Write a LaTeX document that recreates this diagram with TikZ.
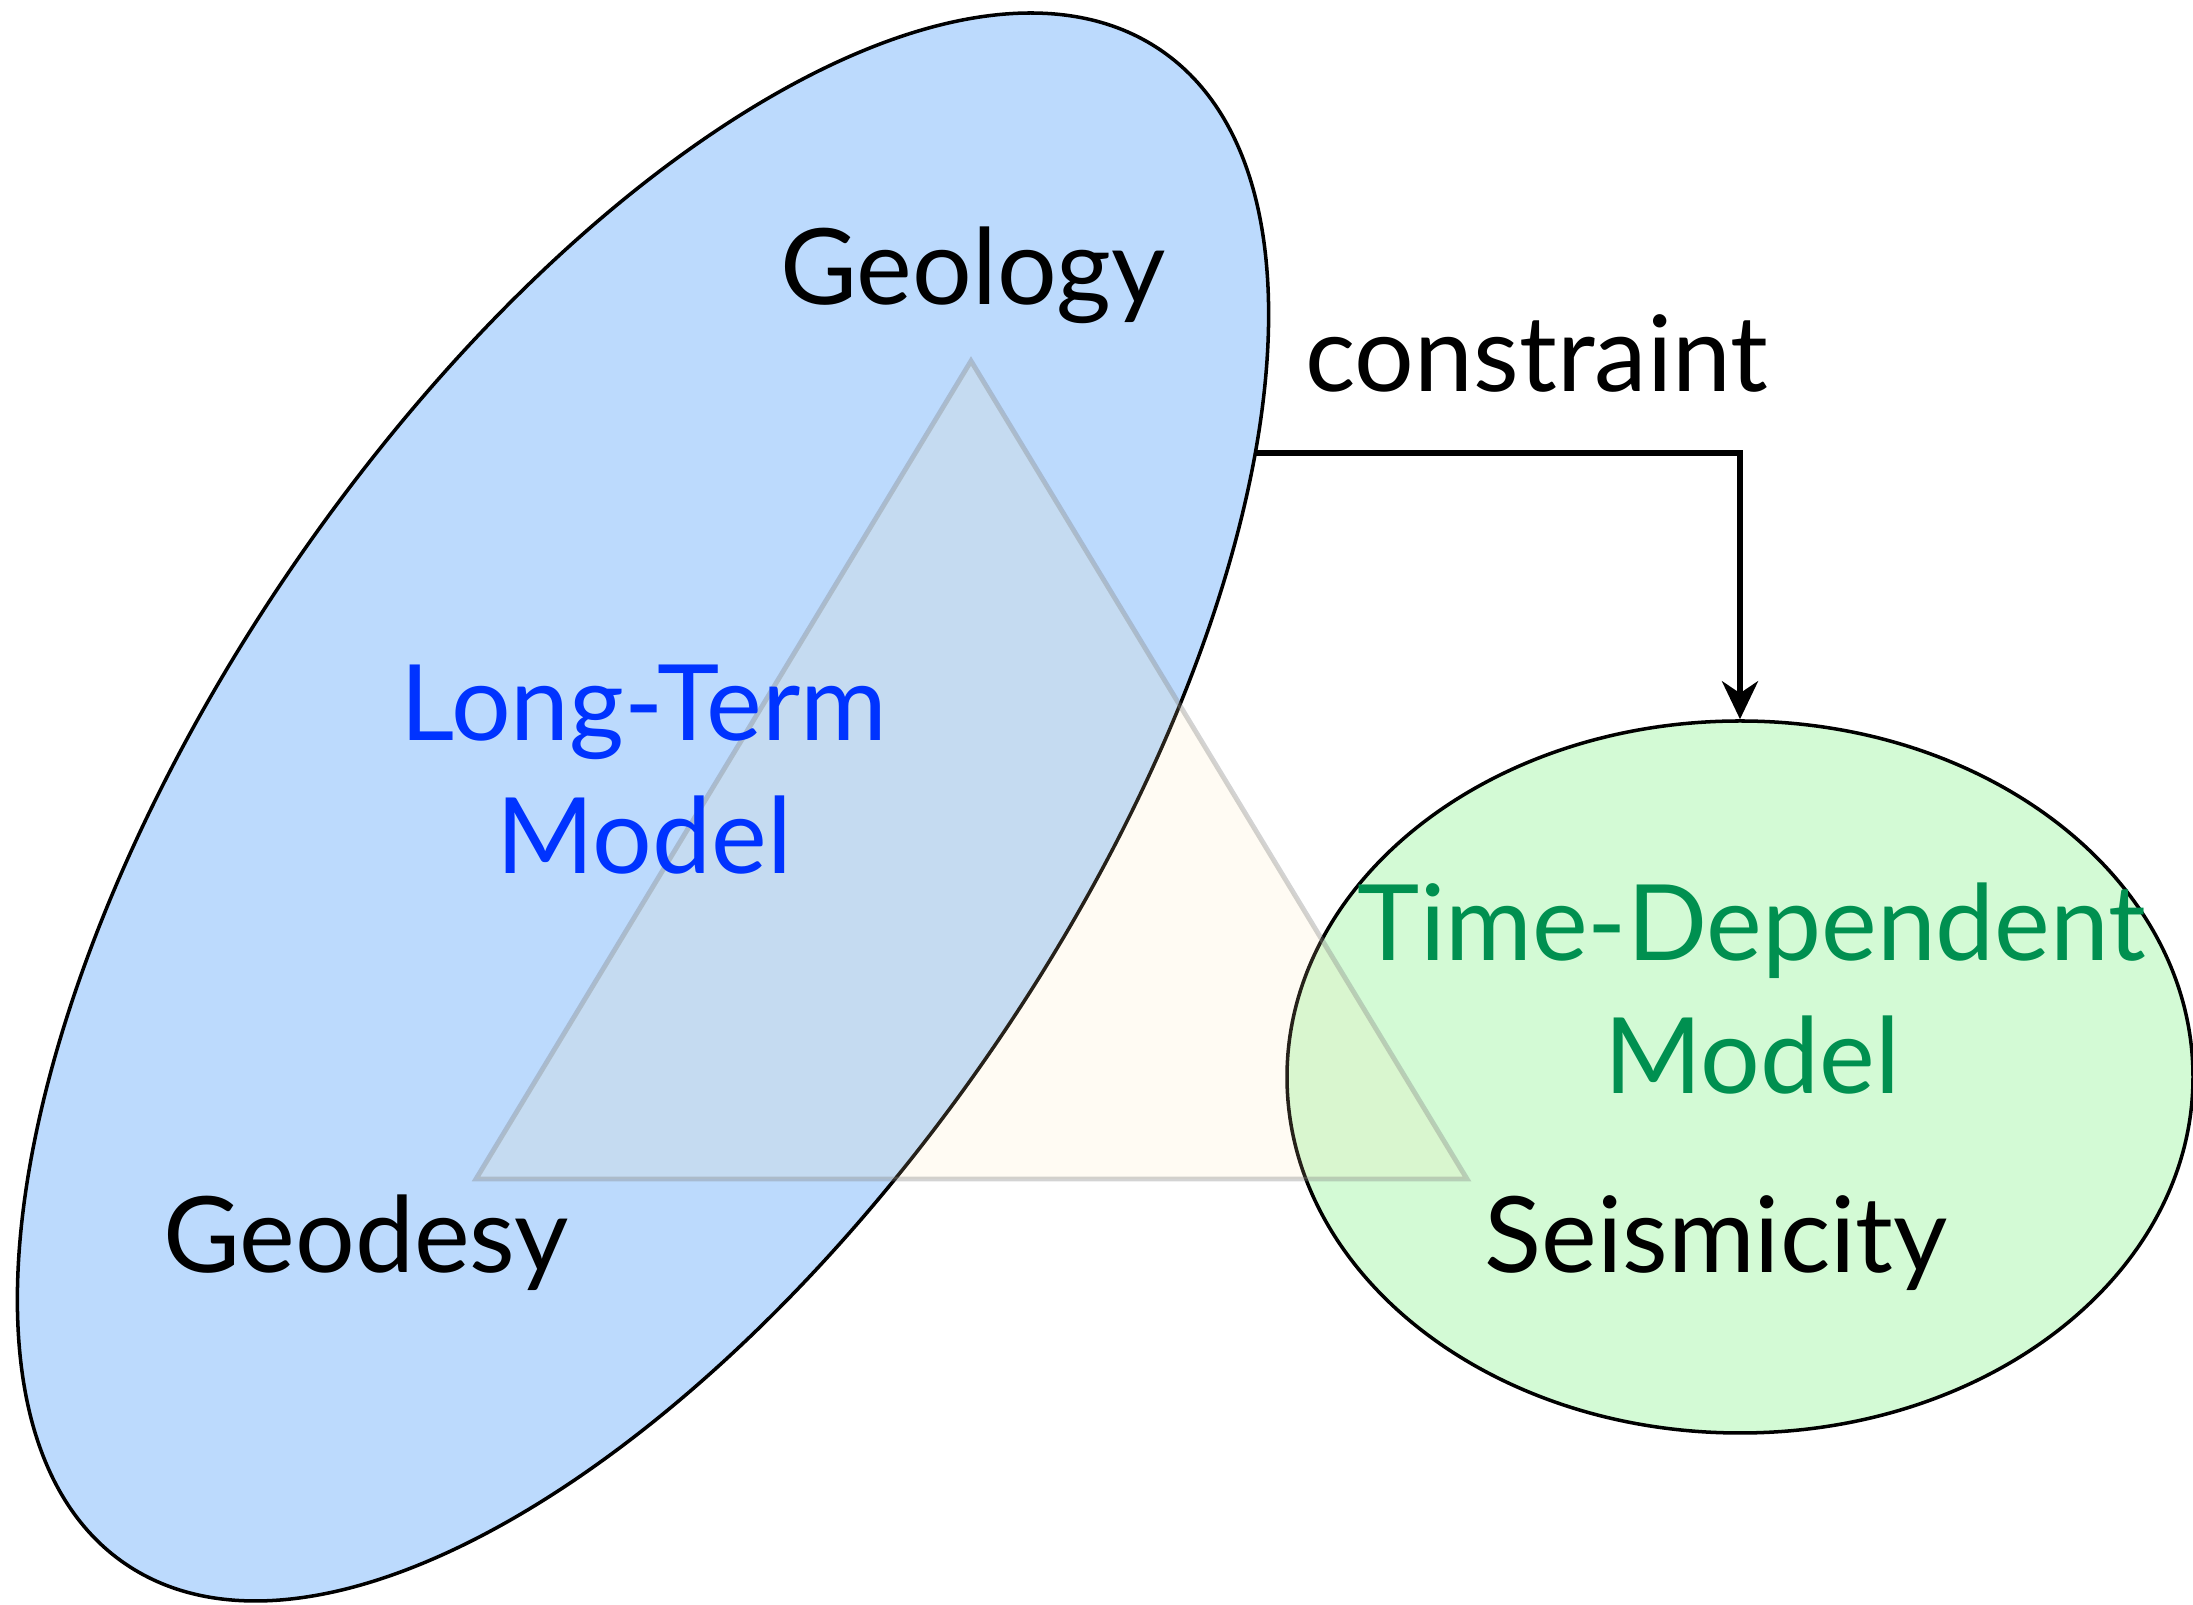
\documentclass[tikz,border=0pt]{standalone}
\usepackage{fontspec}
\setmainfont{Lato}
\usepackage{xcolor}
\usetikzlibrary{arrows.meta,positioning,shapes.geometric}
\definecolor{ltblue}{HTML}{BCDAFD}
\definecolor{tdgreen}{HTML}{D3FAD5}
\definecolor{ltText}{HTML}{0033FF}
\definecolor{tdText}{HTML}{009050}
\definecolor{wheat}{HTML}{FFE4AF}

\begin{document}
\begin{tikzpicture}[
  blob/.style={draw=black, line width=1pt, ellipse, inner sep=0pt},
  label/.style={font=\fontsize{30}{36}\selectfont, align=center, anchor=base},
  arrow/.style={-{Stealth[length=3.8mm, width=3.6mm, inset=1.2mm]}, line width=1.6pt, draw=black}
]
\useasboundingbox (0,0) rectangle (21.93,16.05);

% the two models
\node[blob, fill=ltblue, rotate=55.6, minimum width=18.34cm, minimum height=8.5cm] (lt) at (6.43,7.98) {};
\node[blob, fill=tdgreen, minimum width=9.06cm, minimum height=7.12cm] (td) at (17.40,5.28) {};

% data triangle
\coordinate (geo) at (9.71,12.44);
\coordinate (gps) at (4.76,4.26);
\coordinate (seis) at (14.67,4.26);
\draw[line width=1.4pt, draw=gray, draw opacity=0.35, fill=wheat, fill opacity=0.15] (geo) -- (gps) -- (seis) -- cycle;

\node[label] (geology) at (9.73,13.00) {Geology};
\node[label] (geodesy) at (3.66,3.32) {Geodesy};
\node[label] (seismicity) at (17.16,3.32) {Seismicity};
\node[label, text=ltText] (ltname) at (6.44,7.31) {Long-Term\\[2pt]Model};
\node[label, text=tdText] (tdname) at (17.52,5.11) {Time-Dependent\\[2pt]Model};

\coordinate (start) at (12.56,11.52);
\draw[arrow] (start) -| node[label, pos=0.29, yshift=0.61cm] (constraint) {constraint} (td.north);
\end{tikzpicture}
\end{document}
